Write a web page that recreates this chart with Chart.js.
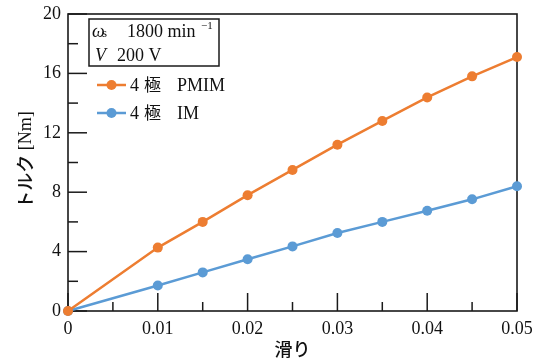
<!DOCTYPE html>
<html>
<head>
<meta charset="utf-8">
<script src="https://cdn.jsdelivr.net/npm/chart.js@4"></script>
<style>
  body { margin: 0; background: #fff; }
</style>
</head>
<body>
<canvas id="c" width="543" height="363"></canvas>
<script>
const slip = [0, 0.01, 0.015, 0.02, 0.025, 0.03, 0.035, 0.04, 0.045, 0.05];
const torquePMIM = [0, 4.27, 6.0, 7.8, 9.5, 11.2, 12.8, 14.38, 15.8, 17.1];
const torqueIM = [0, 1.72, 2.6, 3.48, 4.35, 5.25, 6.0, 6.75, 7.52, 8.4];
const seriesNames = ["PMIM", "IM"];
const xTitle = "滑り";
const yTitle = ["トルク", " [Nm]"];

const ORANGE = "#ED7D31";
const BLUE = "#5B9BD5";
const SERIF = '"Liberation Serif", "Times New Roman", serif';
const JP = '"Noto Sans CJK JP", sans-serif';

const toPts = ys => slip.map((x, i) => ({ x: x, y: ys[i] }));

// tick marks inside the frame, frame, titles, legend box
const decor = {
  id: "decor",
  beforeDatasetsDraw(chart) {
    const ctx = chart.ctx, a = chart.chartArea;
    const xs = chart.scales.x, ys = chart.scales.y;
    ctx.save();
    ctx.strokeStyle = "#1a1a1a";
    ctx.lineWidth = 1.6;
    ctx.strokeRect(a.left, a.top, a.right - a.left, a.bottom - a.top);
    ctx.lineWidth = 1.5;
    xs.ticks.forEach(t => {
      const px = xs.getPixelForValue(t.value);
      const len = t.label ? 18 : 9;
      ctx.beginPath(); ctx.moveTo(px, a.bottom); ctx.lineTo(px, a.bottom - len); ctx.stroke();
    });
    ys.ticks.forEach(t => {
      const py = ys.getPixelForValue(t.value);
      const len = t.label ? 19 : 10;
      ctx.beginPath(); ctx.moveTo(a.left, py); ctx.lineTo(a.left + len, py); ctx.stroke();
    });
    ctx.restore();
  },
  afterDraw(chart) {
    const ctx = chart.ctx, a = chart.chartArea;
    ctx.save();
    ctx.fillStyle = "#111";
    ctx.textBaseline = "middle";

    // x title
    ctx.font = '500 18px ' + JP;
    ctx.textAlign = "center";
    ctx.fillText(xTitle, (a.left + a.right) / 2, 349);

    // y title, rotated, mixed fonts
    ctx.save();
    ctx.translate(25, 160);
    ctx.rotate(-Math.PI / 2);
    ctx.textAlign = "left";
    const f1 = '500 18px ' + JP, f2 = '18px ' + SERIF;
    ctx.font = f1; const w1 = ctx.measureText(yTitle[0]).width;
    ctx.font = f2; const w2 = ctx.measureText(yTitle[1]).width;
    let x0 = -(w1 + w2) / 2;
    ctx.font = f1; ctx.fillText(yTitle[0], x0, 0);
    ctx.font = f2; ctx.fillText(yTitle[1], x0 + w1, 1);
    ctx.restore();

    // condition box
    ctx.strokeStyle = "#1a1a1a";
    ctx.lineWidth = 1.5;
    ctx.strokeRect(89, 19, 130, 47);
    ctx.textAlign = "left";
    ctx.textBaseline = "alphabetic";
    ctx.font = 'italic 18px ' + SERIF;
    ctx.fillText("ω", 92, 37);
    ctx.font = '13px ' + SERIF;
    ctx.fillText("s", 102, 37);
    ctx.font = '18px ' + SERIF;
    ctx.fillText("1800 min", 127, 37);
    ctx.font = '11px ' + SERIF;
    ctx.fillText("−1", 201, 29);
    ctx.font = 'italic 18px ' + SERIF;
    ctx.fillText("V", 95, 61);
    ctx.font = '18px ' + SERIF;
    ctx.fillText("200 V", 117, 61);

    // legend
    const rows = [[seriesNames[0], ORANGE, 85], [seriesNames[1], BLUE, 113]];
    rows.forEach(([name, col, y]) => {
      ctx.strokeStyle = col; ctx.fillStyle = col; ctx.lineWidth = 2.5;
      ctx.beginPath(); ctx.moveTo(97, y); ctx.lineTo(126, y); ctx.stroke();
      ctx.beginPath(); ctx.arc(111.5, y, 5, 0, Math.PI * 2); ctx.fill();
      ctx.fillStyle = "#111";
      ctx.textBaseline = "middle";
      ctx.font = '18px ' + SERIF;
      ctx.fillText("4", 130, y + 1);
      ctx.font = '17px ' + JP;
      ctx.fillText("極", 144, y);
      ctx.font = '18px ' + SERIF;
      ctx.fillText(name, 177, y + 1);
    });
    ctx.restore();
  }
};

new Chart(document.getElementById("c"), {
  type: "line",
  data: {
    datasets: [
      { label: seriesNames[0], data: toPts(torquePMIM), borderColor: ORANGE, backgroundColor: ORANGE,
        borderWidth: 2.5, pointRadius: 5, pointBorderWidth: 0, clip: false, tension: 0 },
      { label: seriesNames[1], data: toPts(torqueIM), borderColor: BLUE, backgroundColor: BLUE,
        borderWidth: 2.5, pointRadius: 5, pointBorderWidth: 0, clip: false, tension: 0 }
    ]
  },
  options: {
    responsive: false,
    animation: false,
    layout: { padding: { left: 0, top: 14, right: 26, bottom: 0 } },
    plugins: { legend: { display: false }, tooltip: { enabled: false } },
    scales: {
      x: {
        type: "linear", min: 0, max: 0.05,
        grid: { display: false, drawTicks: false, tickLength: 0 },
        border: { display: false },
        afterFit: s => { s.height = 52; s.paddingLeft = 0; s.paddingRight = 0; },
        ticks: {
          stepSize: 0.005, maxRotation: 0, padding: 7, color: "#111",
          font: { family: SERIF, size: 18 },
          callback: v => {
            const k = Math.round(v * 1000);
            if (k % 10 !== 0) return "";
            return k === 0 ? "0" : (k / 1000).toFixed(2);
          }
        }
      },
      y: {
        min: 0, max: 20,
        grid: { display: false, drawTicks: false, tickLength: 0 },
        border: { display: false },
        afterFit: s => { s.width = 68; s.paddingTop = 0; s.paddingBottom = 0; },
        ticks: {
          stepSize: 2, padding: 7, color: "#111",
          font: { family: SERIF, size: 18 },
          callback: v => (Math.round(v) % 4 === 0 ? String(Math.round(v)) : "")
        }
      }
    }
  },
  plugins: [decor]
});
</script>
</body>
</html>
